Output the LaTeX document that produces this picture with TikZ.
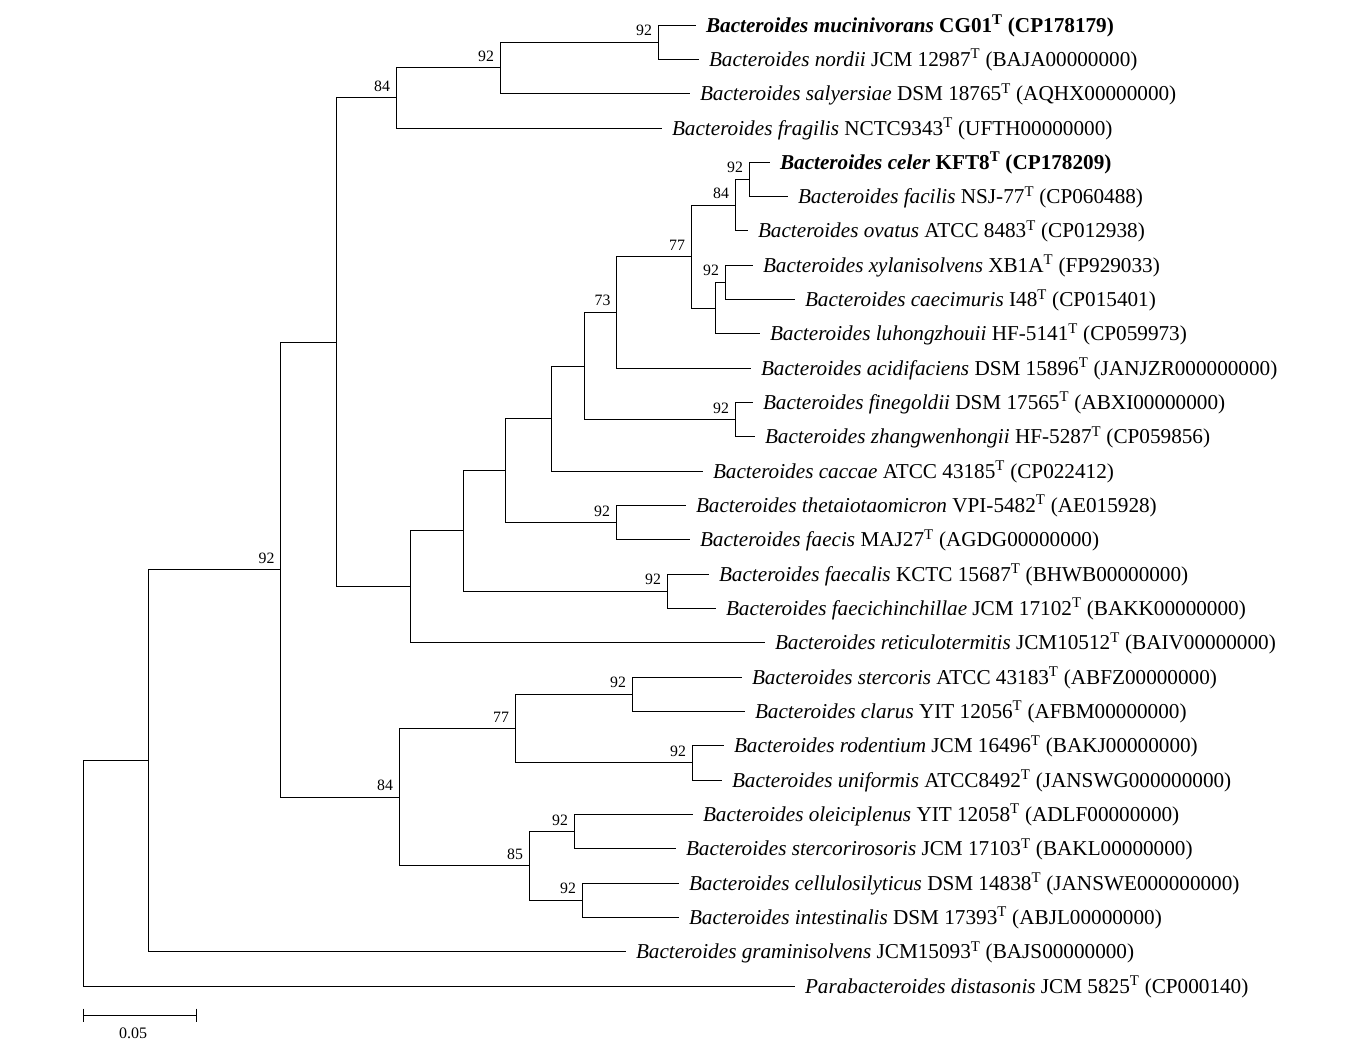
\documentclass[tikz,border=0pt]{standalone}
\usepackage{fontspec}
\setmainfont{Liberation Serif}
\usetikzlibrary{positioning}

\newcommand{\taxon}[3]{\textit{#1} #2\textsuperscript{T} (#3)}
\newcommand{\newtaxon}[3]{\textbf{\textit{#1} #2\textsuperscript{T} (#3)}}

\begin{document}
\begin{tikzpicture}[x=1pt, y=-1pt, line width=1pt,
    leaf/.style={anchor=base west, inner sep=0pt, xshift=9.5pt, yshift=-7pt, font=\fontsize{21.2}{22}\selectfont},
    boot/.style={anchor=base east, inner sep=0pt, xshift=-5.5pt, yshift=6.5pt, font=\fontsize{15.8}{16}\selectfont}]
    \useasboundingbox (0,0) rectangle (1351,1063);

    % Leaves
    \coordinate (l1) at (696,25);
    \coordinate (l2) at (699,59.3);
    \coordinate (l3) at (690,93.6);
    \coordinate (l4) at (662,128);
    \coordinate (l5) at (770,162.3);
    \coordinate (l6) at (788,196.6);
    \coordinate (l7) at (748,230.9);
    \coordinate (l8) at (753,265.2);
    \coordinate (l9) at (795,299.6);
    \coordinate (l10) at (760,333.9);
    \coordinate (l11) at (751,368.2);
    \coordinate (l12) at (753,402.5);
    \coordinate (l13) at (755,436.8);
    \coordinate (l14) at (703,471.2);
    \coordinate (l15) at (686,505.5);
    \coordinate (l16) at (690,539.8);
    \coordinate (l17) at (709,574.1);
    \coordinate (l18) at (716,608.4);
    \coordinate (l19) at (765,642.8);
    \coordinate (l20) at (742,677.1);
    \coordinate (l21) at (745,711.4);
    \coordinate (l22) at (724,745.7);
    \coordinate (l23) at (722,780);
    \coordinate (l24) at (693,814.4);
    \coordinate (l25) at (676,848.7);
    \coordinate (l26) at (679,883);
    \coordinate (l27) at (679,917.3);
    \coordinate (l28) at (626,951.6);
    \coordinate (l29) at (795,986);

    % Internal nodes
    \coordinate (n1) at (658,42.15);
    \coordinate (n2) at (500,67.9);
    \coordinate (n3) at (396,97.9);
    \coordinate (n4) at (749,179.45);
    \coordinate (n5) at (735,205.2);
    \coordinate (n6) at (725,282.4);
    \coordinate (n7) at (715,308.15);
    \coordinate (n8) at (691,256.7);
    \coordinate (n9) at (616.5,312.45);
    \coordinate (n10) at (735,419.65);
    \coordinate (n11) at (584,366.05);
    \coordinate (n12) at (551,418.6);
    \coordinate (n13) at (616,522.65);
    \coordinate (n14) at (505,470.6);
    \coordinate (n15) at (667,591.25);
    \coordinate (n16) at (463,530.9);
    \coordinate (n17) at (410,586.85);
    \coordinate (n18) at (336,342.4);
    \coordinate (n19) at (632,694.25);
    \coordinate (n20) at (692,762.85);
    \coordinate (n21) at (515,728.55);
    \coordinate (n22) at (574,831.55);
    \coordinate (n23) at (582,900.15);
    \coordinate (n24) at (529,865.85);
    \coordinate (n25) at (399,797.2);
    \coordinate (n26) at (280.5,569.8);
    \coordinate (n27) at (148,760.7);
    \coordinate (root) at (83,873.35);

    % Branches
    \draw (n1) |- (l1);  \draw (n1) |- (l2);
    \draw (n2) |- (n1);  \draw (n2) |- (l3);
    \draw (n3) |- (n2);  \draw (n3) |- (l4);
    \draw (n4) |- (l5);  \draw (n4) |- (l6);
    \draw (n5) |- (n4);  \draw (n5) |- (l7);
    \draw (n6) |- (l8);  \draw (n6) |- (l9);
    \draw (n7) |- (n6);  \draw (n7) |- (l10);
    \draw (n8) |- (n5);  \draw (n8) |- (n7);
    \draw (n9) |- (n8);  \draw (n9) |- (l11);
    \draw (n10) |- (l12); \draw (n10) |- (l13);
    \draw (n11) |- (n9); \draw (n11) |- (n10);
    \draw (n12) |- (n11); \draw (n12) |- (l14);
    \draw (n13) |- (l15); \draw (n13) |- (l16);
    \draw (n14) |- (n12); \draw (n14) |- (n13);
    \draw (n15) |- (l17); \draw (n15) |- (l18);
    \draw (n16) |- (n14); \draw (n16) |- (n15);
    \draw (n17) |- (n16); \draw (n17) |- (l19);
    \draw (n18) |- (n3); \draw (n18) |- (n17);
    \draw (n19) |- (l20); \draw (n19) |- (l21);
    \draw (n20) |- (l22); \draw (n20) |- (l23);
    \draw (n21) |- (n19); \draw (n21) |- (n20);
    \draw (n22) |- (l24); \draw (n22) |- (l25);
    \draw (n23) |- (l26); \draw (n23) |- (l27);
    \draw (n24) |- (n22); \draw (n24) |- (n23);
    \draw (n25) |- (n21); \draw (n25) |- (n24);
    \draw (n26) |- (n18); \draw (n26) |- (n25);
    \draw (n27) |- (n26); \draw (n27) |- (l28);
    \draw (root) |- (n27); \draw (root) |- (l29);

    % Bootstrap values
    \node[boot] (b1) at (n1) {92};
    \node[boot] (b2) at (n2) {92};
    \node[boot] (b3) at (n3) {84};
    \node[boot] (b4) at (n4) {92};
    \node[boot] (b5) at (n5) {84};
    \node[boot] (b6) at (n6) {92};
    \node[boot] (b8) at (n8) {77};
    \node[boot] (b9) at (n9) {73};
    \node[boot] (b10) at (n10) {92};
    \node[boot] (b13) at (n13) {92};
    \node[boot] (b15) at (n15) {92};
    \node[boot] (b19) at (n19) {92};
    \node[boot] (b20) at (n20) {92};
    \node[boot] (b21) at (n21) {77};
    \node[boot] (b22) at (n22) {92};
    \node[boot] (b23) at (n23) {92};
    \node[boot] (b24) at (n24) {85};
    \node[boot] (b25) at (n25) {84};
    \node[boot] (b26) at (n26) {92};

    % Taxon labels
    \node[leaf] (t1) at (l1) {\newtaxon{Bacteroides mucinivorans}{CG01}{CP178179}};
    \node[leaf] (t2) at (l2) {\taxon{Bacteroides nordii}{JCM 12987}{BAJA00000000}};
    \node[leaf] (t3) at (l3) {\taxon{Bacteroides salyersiae}{DSM 18765}{AQHX00000000}};
    \node[leaf] (t4) at (l4) {\taxon{Bacteroides fragilis}{NCTC9343}{UFTH00000000}};
    \node[leaf] (t5) at (l5) {\newtaxon{Bacteroides celer}{KFT8}{CP178209}};
    \node[leaf] (t6) at (l6) {\taxon{Bacteroides facilis}{NSJ-77}{CP060488}};
    \node[leaf] (t7) at (l7) {\taxon{Bacteroides ovatus}{ATCC 8483}{CP012938}};
    \node[leaf] (t8) at (l8) {\taxon{Bacteroides xylanisolvens}{XB1A}{FP929033}};
    \node[leaf] (t9) at (l9) {\taxon{Bacteroides caecimuris}{I48}{CP015401}};
    \node[leaf] (t10) at (l10) {\taxon{Bacteroides luhongzhouii}{HF-5141}{CP059973}};
    \node[leaf] (t11) at (l11) {\taxon{Bacteroides acidifaciens}{DSM 15896}{JANJZR000000000}};
    \node[leaf] (t12) at (l12) {\taxon{Bacteroides finegoldii}{DSM 17565}{ABXI00000000}};
    \node[leaf] (t13) at (l13) {\taxon{Bacteroides zhangwenhongii}{HF-5287}{CP059856}};
    \node[leaf] (t14) at (l14) {\taxon{Bacteroides caccae}{ATCC 43185}{CP022412}};
    \node[leaf] (t15) at (l15) {\taxon{Bacteroides thetaiotaomicron}{VPI-5482}{AE015928}};
    \node[leaf] (t16) at (l16) {\taxon{Bacteroides faecis}{MAJ27}{AGDG00000000}};
    \node[leaf] (t17) at (l17) {\taxon{Bacteroides faecalis}{KCTC 15687}{BHWB00000000}};
    \node[leaf] (t18) at (l18) {\taxon{Bacteroides faecichinchillae}{JCM 17102}{BAKK00000000}};
    \node[leaf] (t19) at (l19) {\taxon{Bacteroides reticulotermitis}{JCM10512}{BAIV00000000}};
    \node[leaf] (t20) at (l20) {\taxon{Bacteroides stercoris}{ATCC 43183}{ABFZ00000000}};
    \node[leaf] (t21) at (l21) {\taxon{Bacteroides clarus}{YIT 12056}{AFBM00000000}};
    \node[leaf] (t22) at (l22) {\taxon{Bacteroides rodentium}{JCM 16496}{BAKJ00000000}};
    \node[leaf] (t23) at (l23) {\taxon{Bacteroides uniformis}{ATCC8492}{JANSWG000000000}};
    \node[leaf] (t24) at (l24) {\taxon{Bacteroides oleiciplenus}{YIT 12058}{ADLF00000000}};
    \node[leaf] (t25) at (l25) {\taxon{Bacteroides stercorirosoris}{JCM 17103}{BAKL00000000}};
    \node[leaf] (t26) at (l26) {\taxon{Bacteroides cellulosilyticus}{DSM 14838}{JANSWE000000000}};
    \node[leaf] (t27) at (l27) {\taxon{Bacteroides intestinalis}{DSM 17393}{ABJL00000000}};
    \node[leaf] (t28) at (l28) {\taxon{Bacteroides graminisolvens}{JCM15093}{BAJS00000000}};
    \node[leaf] (t29) at (l29) {\taxon{Parabacteroides distasonis}{JCM 5825}{CP000140}};

    % Scale bar
    \coordinate (s0) at (83,1015);
    \coordinate (s1) at (196,1015);
    \draw (s0) -- (s1);
    \draw ([yshift=6.5pt]s0) -- ([yshift=-6.5pt]s0);
    \draw ([yshift=6.5pt]s1) -- ([yshift=-6.5pt]s1);
    \node[font=\fontsize{16}{16}\selectfont, inner sep=0pt] (sl) at (133,1033) {0.05};
\end{tikzpicture}
\end{document}
